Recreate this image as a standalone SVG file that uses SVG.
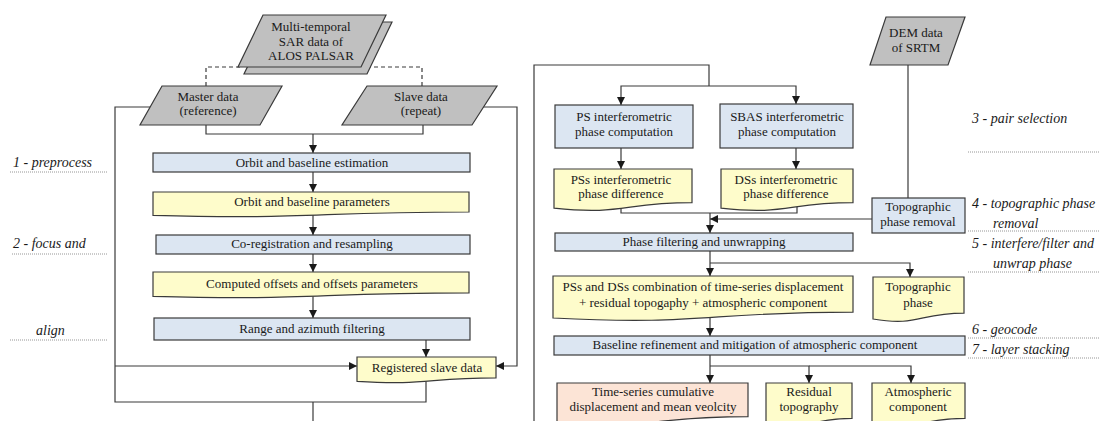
<svg xmlns="http://www.w3.org/2000/svg" width="1099" height="421" viewBox="0 0 1099 421" font-family="'Liberation Serif', 'Times New Roman', 'DejaVu Serif', serif">
<defs>
<style>
.n{stroke:#3a3a3a;stroke-width:1.2}
.g{fill:#c0c0c0}.b{fill:#dce6f2}.y{fill:#fefccb}.p{fill:#fce4d6}
text{font-family:'Liberation Serif','Times New Roman','DejaVu Serif',serif;font-size:13px;fill:#1a1a1a;text-anchor:middle}
.lab{font-style:italic;font-size:14px;text-anchor:start}
.c{fill:none;stroke:#3a3a3a;stroke-width:1.2}
.d{stroke-dasharray:4 3}
.dot{fill:none;stroke:#8a8a8a;stroke-width:0.9;stroke-dasharray:1 1}
</style>
<marker id="a" markerWidth="8" markerHeight="8" refX="8" refY="4" orient="auto" markerUnits="userSpaceOnUse">
<path d="M0,0 L8,4 L0,8 z" fill="#1a1a1a"/>
</marker>
</defs>
<rect width="1099" height="421" fill="#ffffff"/>

<g id="connectors">
<path class="c d" d="M206,86 V67 H240"/>
<path class="c d" d="M367,67 H422 V86"/>
<path class="c" d="M206,125 V134 H423 V125"/>
<path class="c" d="M313,134 V153" marker-end="url(#a)"/>
<path class="c" d="M155,107 H115 V402 H426 V380"/>
<path class="c" d="M115,366 H357" marker-end="url(#a)"/>
<path class="c" d="M480,107 H517 V366 H496" marker-end="url(#a)"/>
<path class="c" d="M313,172 V192" marker-end="url(#a)"/>
<path class="c" d="M313,214 V235" marker-end="url(#a)"/>
<path class="c" d="M313,254 V272" marker-end="url(#a)"/>
<path class="c" d="M313,296 V318" marker-end="url(#a)"/>
<path class="c" d="M426,340 V357" marker-end="url(#a)"/>
<path class="c" d="M313,402 V421"/>
<path class="c" d="M534,421 V65 H709 V86"/>
<path class="c" d="M709,86 H621 V105" marker-end="url(#a)"/>
<path class="c" d="M709,86 H796 V104" marker-end="url(#a)"/>
<path class="c" d="M621,148 V169" marker-end="url(#a)"/>
<path class="c" d="M796,148 V169" marker-end="url(#a)"/>
<path class="c" d="M908,65 V198"/>
<path class="c" d="M621,205 V213 H797 V205"/>
<path class="c" d="M710,213 V233" marker-end="url(#a)"/>
<path class="c" d="M872,219 H710" marker-end="url(#a)"/>
<path class="c" d="M710,251 V276" marker-end="url(#a)"/>
<path class="c" d="M710,263 H910 V277" marker-end="url(#a)"/>
<path class="c" d="M710,318 V336" marker-end="url(#a)"/>
<path class="c" d="M710,355 V383" marker-end="url(#a)"/>
<path class="c" d="M710,366 H809 V383" marker-end="url(#a)"/>
<path class="c" d="M809,366 H911 V383" marker-end="url(#a)"/>
</g>

<g id="sar-stack">
<path class="n g" d="M269,22 H392 L367,74 H244 Z"/>
<path class="n g" d="M263,15 H386 L361,67 H238 Z"/>
<text x="311" y="31">Multi-temporal</text>
<text x="311" y="46">SAR data of</text>
<text x="311" y="60">ALOS PALSAR</text>
</g>
<g id="master">
<path class="n g" d="M162,86 H282 L260,125 H140 Z"/>
<text x="208" y="101">Master data</text>
<text x="208" y="115">(reference)</text>
</g>
<g id="slave">
<path class="n g" d="M367,86 H497 L472,125 H342 Z"/>
<text x="421" y="101">Slave data</text>
<text x="421" y="115">(repeat)</text>
</g>
<g id="orbit-est">
<rect class="n b" x="153" y="153" width="317" height="19"/>
<text x="312" y="167">Orbit and baseline estimation</text>
</g>
<g id="orbit-params">
<path class="n y" d="M153,192 H469 V212 C311,212 311,219.7 153,215.4 Z"/>
<text x="312" y="206">Orbit and baseline parameters</text>
</g>
<g id="coreg">
<rect class="n b" x="156" y="235" width="314" height="19"/>
<text x="312" y="248">Co-registration and resampling</text>
</g>
<g id="offsets">
<path class="n y" d="M153,272 H469 V292.9 C311,292.9 311,300.8 153,296.3 Z"/>
<text x="312" y="288">Computed offsets and offsets parameters</text>
</g>
<g id="range">
<rect class="n b" x="154" y="318" width="316" height="22"/>
<text x="312" y="333">Range and azimuth filtering</text>
</g>
<g id="registered">
<path class="n y" d="M357,357 H496 V377.9 C426.5,377.9 426.5,385.8 357,381.3 Z"/>
<text x="427" y="372">Registered slave data</text>
</g>

<g id="ps-comp">
<rect class="n b" x="555" y="105" width="138" height="43"/>
<text x="624" y="121">PS interferometric</text>
<text x="624" y="136">phase computation</text>
</g>
<g id="sbas-comp">
<rect class="n b" x="720" y="104" width="133" height="44"/>
<text x="787" y="121">SBAS interferometric</text>
<text x="787" y="136">phase computation</text>
</g>
<g id="dem">
<path class="n g" d="M886,17 H965 L948,65 H870 Z"/>
<text x="916" y="37">DEM data</text>
<text x="916" y="52">of SRTM</text>
</g>
<g id="pss-diff">
<path class="n y" d="M554,169 H692 V202.7 C623,202.7 623,215.5 554,208.2 Z"/>
<text x="621" y="184">PSs interferometric</text>
<text x="621" y="198">phase difference</text>
</g>
<g id="dss-diff">
<path class="n y" d="M721,169 H853 V202.7 C787,202.7 787,215.5 721,208.2 Z"/>
<text x="786" y="184">DSs interferometric</text>
<text x="786" y="198">phase difference</text>
</g>
<g id="topo-removal">
<rect class="n b" x="872" y="198" width="93" height="35"/>
<text x="918" y="211">Topographic</text>
<text x="918" y="226">phase removal</text>
</g>
<g id="phase-filter">
<rect class="n b" x="555" y="233" width="298" height="18"/>
<text x="704" y="246">Phase filtering and unwrapping</text>
</g>
<g id="combination">
<path class="n y" d="M553,276 H853 V312.1 C703,312.1 703,325.8 553,318 Z"/>
<text x="703" y="291">PSs and DSs combination of time-series displacement</text>
<text x="703" y="307">+ residual topogaphy + atmospheric component</text>
</g>
<g id="topo-phase">
<path class="n y" d="M873,277 H964 V313.1 C918.5,313.1 918.5,326.8 873,319 Z"/>
<text x="918" y="291">Topographic</text>
<text x="918" y="307">phase</text>
</g>
<g id="baseline-ref">
<rect class="n b" x="554" y="336" width="411" height="19"/>
<text x="755" y="349">Baseline refinement and mitigation of atmospheric component</text>
</g>
<g id="time-series">
<path class="n p" d="M557,383 H748 V416.7 C652.5,416.7 652.5,429.5 557,422.2 Z"/>
<text x="653" y="396">Time-series cumulative</text>
<text x="653" y="411">displacement and mean veolcity</text>
</g>
<g id="residual">
<path class="n y" d="M766,383 H852 V418.3 C809,418.3 809,431.7 766,424.1 Z"/>
<text x="809" y="396">Residual</text>
<text x="809" y="411">topography</text>
</g>
<g id="atmospheric">
<path class="n y" d="M872,383 H965 V418.3 C918.5,418.3 918.5,431.7 872,424.1 Z"/>
<text x="918" y="396">Atmospheric</text>
<text x="918" y="411">component</text>
</g>

<g id="step-labels">
<text class="lab" x="13" y="167">1 - preprocess</text>
<path class="dot" d="M10,172 H108"/>
<text class="lab" x="13" y="248">2 - focus and</text>
<path class="dot" d="M12,254 H108"/>
<text class="lab" x="36" y="335">align</text>
<path class="dot" d="M10,340 H108"/>
<text class="lab" x="972" y="123">3 - pair selection</text>
<path class="dot" d="M968,152 H1099"/>
<text class="lab" x="972" y="208">4 - topographic phase</text>
<text class="lab" x="993" y="228">removal</text>
<path class="dot" d="M968,231 H1099"/>
<text class="lab" x="972" y="248">5 - interfere/filter and</text>
<text class="lab" x="993" y="268">unwrap phase</text>
<path class="dot" d="M968,272 H1099"/>
<text class="lab" x="972" y="334">6 - geocode</text>
<path class="dot" d="M968,338 H1099"/>
<text class="lab" x="972" y="354">7 - layer stacking</text>
<path class="dot" d="M968,358 H1099"/>
</g>
</svg>
